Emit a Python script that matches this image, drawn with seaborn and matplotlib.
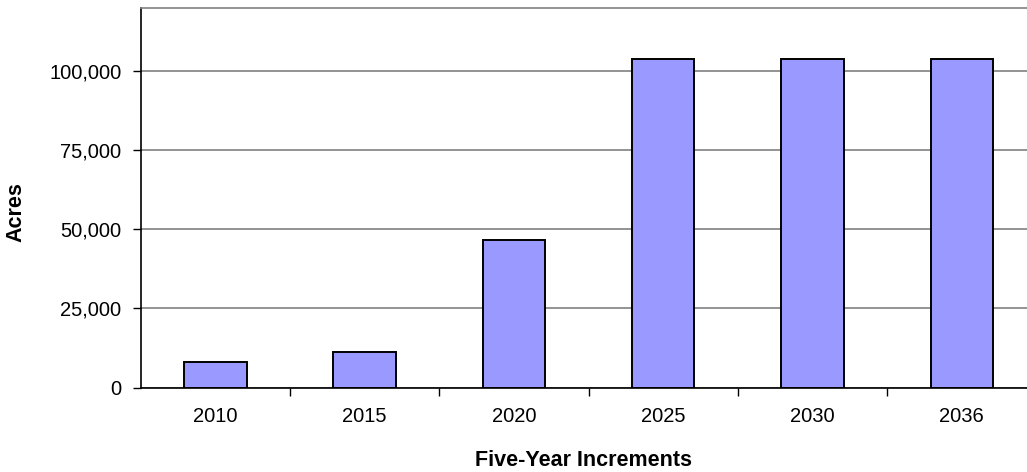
import matplotlib
matplotlib.use("Agg")
import matplotlib.pyplot as plt
import seaborn as sns
import pandas as pd
from matplotlib.ticker import FuncFormatter, FixedLocator

years = ["2010", "2015", "2020", "2025", "2030", "2036"]
acres = [8200, 11400, 46700, 103700, 103700, 103700]
y_ticks = [0, 25000, 50000, 75000, 100000]

sns.set_theme(style="white")
plt.rcParams["font.family"] = ["Liberation Sans", "DejaVu Sans"]

df = pd.DataFrame({"Year": years, "Acres": acres})

fig = plt.figure(figsize=(10.27, 4.72), dpi=100)
W, H = 1027, 472
left, right, top, bottom = 140.7, 1036.5, 7.5, 387.7
ax = fig.add_axes([left / W, (H - bottom) / H, (right - left) / W, (bottom - top) / H])

sns.barplot(data=df, x="Year", y="Acres", ax=ax, color="#9999FF", width=0.418,
            edgecolor="black", linewidth=1.4, saturation=1)
for p in ax.patches:
    p.set_facecolor("#9999FF")

ax.set_xlim(-0.5, len(years) - 0.5)
ax.set_ylim(0, 120000)
ax.set_yticks(y_ticks)
ax.yaxis.set_major_formatter(FuncFormatter(lambda v, _: f"{int(v):,}"))
ax.yaxis.grid(True, color="#808080", linewidth=1.2)
ax.set_axisbelow(True)

# category boundary ticks on x axis
ax.xaxis.set_minor_locator(FixedLocator([i + 0.5 for i in range(len(years))]))
ax.tick_params(axis="x", which="major", length=0, pad=14, labelsize=14.5, colors="black")
ax.tick_params(axis="x", which="minor", length=6, width=1, color="black", bottom=True, direction="out")
ax.tick_params(axis="y", which="major", length=6, width=1, color="black", left=True,
               direction="out", pad=8, labelsize=14.5, labelcolor="black")

ax.spines["right"].set_visible(False)
ax.spines["top"].set_color("#808080")
ax.spines["top"].set_linewidth(1.2)
ax.spines["left"].set_color("black")
ax.spines["left"].set_linewidth(1.2)
ax.spines["bottom"].set_color("black")
ax.spines["bottom"].set_linewidth(1.2)

ax.set_xlabel("Five-Year Increments", fontsize=15.5, fontweight="bold", color="black")
ax.set_ylabel("Acres", fontsize=15.5, fontweight="bold", color="black")
ax.xaxis.set_label_coords(0.494, -0.163)
ax.yaxis.set_label_coords(-0.127, 0.462)

fig.savefig("out.png", dpi=100)
